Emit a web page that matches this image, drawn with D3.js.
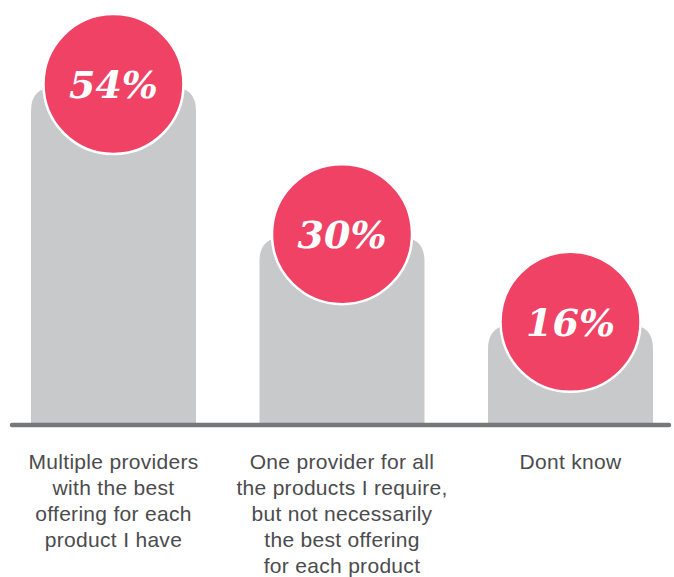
<!DOCTYPE html>
<html>
<head>
<meta charset="utf-8">
<script src="https://cdn.jsdelivr.net/npm/d3@7"></script>
<style>
  html, body { margin: 0; padding: 0; background: #ffffff; }
  svg { display: block; }
</style>
</head>
<body>
<svg id="chart" width="674" height="577"></svg>
<script>
// Survey answers: preferred provider setup
const categories = ["multiple", "one", "dontknow"];
const values = [54, 30, 16];
const valueLabels = ["54%", "30%", "16%"];
const categoryLabels = [
  ["Multiple providers", "with the best", "offering for each", "product I have"],
  ["One provider for all", "the products I require,", "but not necessarily", "the best offering", "for each product"],
  ["Dont know"]
];

const svg = d3.select("#chart");
const baseline = 425;
const radius = 70;

const x = d3.scaleBand()
  .domain(categories)
  .range([31, 653])
  .paddingInner(0.278)
  .paddingOuter(0);

const y = d3.scaleLinear()
  .domain([0, 54])
  .range([baseline, 87]);

// Bar with rounded top corners only
function barPath(x0, w, top, bottom, r) {
  return `M${x0},${bottom}` +
    `V${top + r}` +
    `Q${x0},${top} ${x0 + r},${top}` +
    `H${x0 + w - r}` +
    `Q${x0 + w},${top} ${x0 + w},${top + r}` +
    `V${bottom}Z`;
}

const data = categories.map((c, i) => ({
  key: c, value: values[i], label: valueLabels[i], lines: categoryLabels[i]
}));

svg.append("g").selectAll("path")
  .data(data)
  .join("path")
  .attr("d", d => barPath(x(d.key), x.bandwidth(), y(d.value), baseline, 24))
  .attr("fill", "#c8c9cb");

// Axis line
svg.append("line")
  .attr("x1", 12).attr("x2", 669)
  .attr("y1", baseline).attr("y2", baseline)
  .attr("stroke", "#76777a")
  .attr("stroke-width", 4.5)
  .attr("stroke-linecap", "round");

// Value bubbles, kept clear of the axis line
const cy = d => Math.min(y(d.value) - 3, baseline - radius - 23);
const bubbles = svg.append("g").selectAll("g")
  .data(data)
  .join("g")
  .attr("transform", d => `translate(${x(d.key) + x.bandwidth() / 2},${cy(d)})`);

bubbles.append("circle")
  .attr("r", radius)
  .attr("fill", "#ef4265")
  .attr("stroke", "#ffffff")
  .attr("stroke-width", 2.5);

bubbles.append("text")
  .attr("text-anchor", "middle")
  .attr("dy", "0.36em")
  .attr("fill", "#ffffff")
  .style("font-family", "'DejaVu Serif', serif")
  .style("font-weight", "bold")
  .style("font-style", "italic")
  .style("font-size", "38px")
  .text(d => d.label);

// Category labels under the axis
const labels = svg.append("g").selectAll("text")
  .data(data)
  .join("text")
  .attr("text-anchor", "middle")
  .attr("fill", "#4b4b4d")
  .style("font-family", "'Liberation Sans', Arial, sans-serif")
  .style("font-size", "21px")
  .style("letter-spacing", "0.3px")
  .attr("transform", d => `translate(${x(d.key) + x.bandwidth() / 2},469)`);

labels.selectAll("tspan")
  .data(d => d.lines)
  .join("tspan")
  .attr("x", 0)
  .attr("y", (d, i) => i * 26)
  .text(d => d);
</script>
</body>
</html>
